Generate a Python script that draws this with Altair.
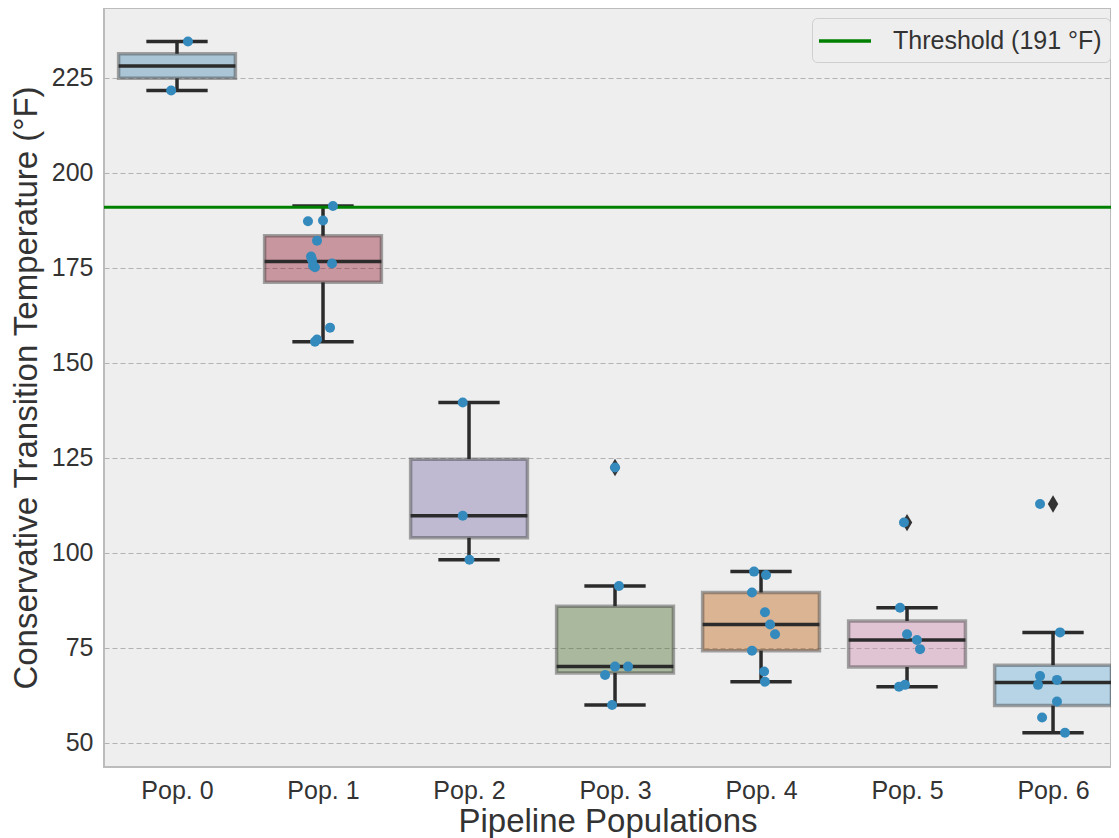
import json
import altair as alt
import numpy as np
import pandas as pd

# ---------------- data ----------------
categories = ["Pop. 0", "Pop. 1", "Pop. 2", "Pop. 3", "Pop. 4", "Pop. 5", "Pop. 6"]

pop0 = [234.6, 221.7]
pop1 = [191.3, 187.5, 187.3, 182.2, 178.0, 177.2, 176.2, 175.6, 175.2, 159.3, 156.2, 155.6]
pop2 = [139.6, 109.8, 98.2]
pop3 = [122.5, 91.3, 70.1, 70.1, 67.9, 60.0]
pop4 = [95.1, 94.2, 89.6, 84.4, 81.2, 78.6, 74.3, 68.8, 66.1]
pop5 = [108.0, 85.6, 78.6, 77.1, 74.7, 65.3, 64.8]
pop6 = [112.9, 79.1, 67.6, 66.6, 65.3, 60.9, 56.7, 52.7]

# horizontal strip-plot jitter of each point (in category units)
jit0 = [0.075, -0.04]
jit1 = [0.068, 0.0, -0.103, -0.041, -0.082, -0.075, 0.062, -0.068, -0.055, 0.048, -0.041, -0.055]
jit2 = [-0.043, -0.043, 0.003]
jit3 = [0.0, 0.027, 0.0, 0.089, -0.068, -0.02]
jit4 = [-0.048, 0.034, -0.062, 0.027, 0.062, 0.096, -0.062, 0.021, 0.027]
jit5 = [-0.021, -0.048, 0.0, 0.068, 0.089, -0.014, -0.055]
jit6 = [-0.089, 0.048, -0.089, 0.027, -0.103, 0.027, -0.075, 0.082]

box_colors = ["#4487B2", "#8F1226", "#786CA8", "#446726", "#BF5D0D", "#CB85AA", "#62ADDA"]
threshold = 191
y_ticks = [50, 75, 100, 125, 150, 175, 200, 225]

populations = [pop0, pop1, pop2, pop3, pop4, pop5, pop6]
jitters = [jit0, jit1, jit2, jit3, jit4, jit5, jit6]

# ---------------- derived tables ----------------
BOX_HALF = 0.4
CAP_HALF = 0.21

pts, boxes, fliers = [], [], []
for i, (vals, jit) in enumerate(zip(populations, jitters)):
    arr = np.array(vals)
    q1, med, q3 = np.percentile(arr, [25, 50, 75])
    iqr = q3 - q1
    inside = arr[(arr >= q1 - 1.5 * iqr) & (arr <= q3 + 1.5 * iqr)]
    wlo, whi = inside.min(), inside.max()
    boxes.append(dict(cat=categories[i], pos=i, left=i - BOX_HALF, right=i + BOX_HALF,
                      capl=i - CAP_HALF, capr=i + CAP_HALF,
                      q1=q1, q3=q3, med=med, wlo=wlo, whi=whi))
    for v in arr[(arr < wlo) | (arr > whi)]:
        fliers.append(dict(pos=i, value=float(v)))
    for v, j in zip(vals, jit):
        pts.append(dict(pos=i + j, value=v))

box_df = pd.DataFrame(boxes)
pts_df = pd.DataFrame(pts)
flier_df = pd.DataFrame(fliers)
thr_df = pd.DataFrame({"value": [threshold], "label": [f"Threshold ({threshold} \u00b0F)"]})

FONT = "Liberation Sans"
TXT = "#333333"

x_scale = alt.Scale(domain=[-0.5, 6.397], nice=False, zero=False)
y_scale = alt.Scale(domain=[43.68, 243.42], nice=False, zero=False)

x_axis = alt.Axis(values=list(range(len(categories))),
                  labelExpr=f"{json.dumps(categories)}[datum.value]",
                  title="Pipeline Populations", grid=False, ticks=False, domain=False,
                  labelFontSize=25, titleFontSize=33, labelPadding=11, titlePadding=2,
                  labelFont=FONT, titleFont=FONT, labelColor=TXT, titleColor=TXT,
                  titleFontWeight="normal")
y_axis = alt.Axis(values=y_ticks, title="Conservative Transition Temperature (\u00b0F)",
                  grid=True, gridColor="#B2B2B2", gridDash=[5, 3], gridWidth=1,
                  ticks=False, domain=False, labelFontSize=25, titleFontSize=33,
                  labelPadding=11, titlePadding=8, labelFont=FONT, titleFont=FONT,
                  labelColor=TXT, titleColor=TXT, titleFontWeight="normal")

base_box = alt.Chart(box_df)

rects = base_box.mark_rect(fillOpacity=0.4, stroke="#3F3F3F", strokeOpacity=0.45,
                           strokeWidth=3.5).encode(
    x=alt.X("left:Q", scale=x_scale, axis=x_axis),
    x2="right:Q",
    y=alt.Y("q1:Q", scale=y_scale, axis=y_axis),
    y2="q3:Q",
    fill=alt.Fill("cat:N", scale=alt.Scale(domain=categories, range=box_colors), legend=None),
)

LINE = "#2B2B2B"
whisk_lo = base_box.mark_rule(color=LINE, strokeWidth=3.5).encode(
    x=alt.X("pos:Q", scale=x_scale), y=alt.Y("wlo:Q", scale=y_scale), y2="q1:Q")
whisk_hi = base_box.mark_rule(color=LINE, strokeWidth=3.5).encode(
    x=alt.X("pos:Q", scale=x_scale), y=alt.Y("q3:Q", scale=y_scale), y2="whi:Q")
cap_lo = base_box.mark_rule(color=LINE, strokeWidth=3.5).encode(
    x=alt.X("capl:Q", scale=x_scale), x2="capr:Q", y=alt.Y("wlo:Q", scale=y_scale))
cap_hi = base_box.mark_rule(color=LINE, strokeWidth=3.5).encode(
    x=alt.X("capl:Q", scale=x_scale), x2="capr:Q", y=alt.Y("whi:Q", scale=y_scale))
median = base_box.mark_rule(color=LINE, strokeWidth=3.5).encode(
    x=alt.X("left:Q", scale=x_scale), x2="right:Q", y=alt.Y("med:Q", scale=y_scale))

flier_marks = alt.Chart(flier_df).mark_point(
    shape="M0,-1L0.6,0L0,1L-0.6,0Z", filled=True, size=300, color="#333333", opacity=1
).encode(x=alt.X("pos:Q", scale=x_scale), y=alt.Y("value:Q", scale=y_scale))

thr = alt.Chart(thr_df).mark_rule(strokeWidth=3).encode(
    y=alt.Y("value:Q", scale=y_scale),
    color=alt.Color("label:N", scale=alt.Scale(range=["#008000"]),
                    legend=alt.Legend(title=None, orient="none", legendX=708, legendY=10,
                                      symbolType="M-2,0H2", symbolSize=676,
                                      symbolStrokeWidth=3.5, symbolOffset=10,
                                      labelFontSize=25, labelLimit=500,
                                      labelFont=FONT, labelColor=TXT, labelOffset=33,
                                      fillColor="#EEEEEE", strokeColor="#CFCFCF",
                                      cornerRadius=5, padding=8)),
)

points = alt.Chart(pts_df).mark_circle(size=100, color="#348ABD", opacity=1).encode(
    x=alt.X("pos:Q", scale=x_scale), y=alt.Y("value:Q", scale=y_scale))

chart = alt.layer(rects, whisk_lo, whisk_hi, cap_lo, cap_hi, median, thr, flier_marks, points).properties(
    width=1007, height=759,
    autosize=alt.AutoSizeParams(type="none"),
    padding={"left": 96, "top": 0, "right": 0, "bottom": 72},
).configure_view(fill="#EEEEEE", stroke="#BCBCBC", strokeWidth=2)

chart.save("out.html", embed_options={"renderer": "svg", "actions": False})
